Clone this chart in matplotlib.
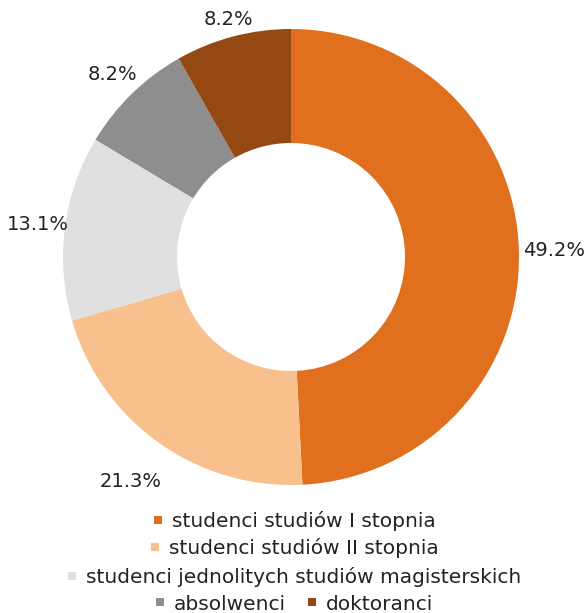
import matplotlib
matplotlib.use("Agg")
import matplotlib.pyplot as plt
from matplotlib.lines import Line2D
import numpy as np

categories = ["studenci studiów I stopnia", "studenci studiów II stopnia",
              "studenci jednolitych studiów magisterskich", "absolwenci", "doktoranci"]
values = [49.2, 21.3, 13.1, 8.2, 8.2]
labels = ["49.2%", "21.3%", "13.1%", "8.2%", "8.2%"]
colors = ["#E0701E", "#F8C08D", "#E0E0E0", "#8E8E8E", "#944913"]

plt.rcParams['font.family'] = ['DejaVu Sans']
W, H = 587, 613
fig = plt.figure(figsize=(W / 100, H / 100), dpi=100)
cx, cy, R = 291, 257, 228
ax = fig.add_axes([(cx - R) / W, (H - cy - R) / H, 2 * R / W, 2 * R / H])
wedges, _ = ax.pie(values, colors=colors, startangle=90, counterclock=False,
                   radius=1.0, wedgeprops=dict(width=0.5, linewidth=0))
ax.set_xlim(-1, 1)
ax.set_ylim(-1, 1)
ax.set_aspect('equal')
ax.axis('off')

label_r = [1.155, 1.21, 1.12, 1.12, 1.075]
for w, lab, r in zip(wedges, labels, label_r):
    ang = np.deg2rad((w.theta1 + w.theta2) / 2)
    ax.text(r * np.cos(ang), r * np.sin(ang), lab, ha='center', va='center',
            fontsize=14, color='#222222', clip_on=False)

rows = [[0], [1], [2], [3, 4]]
row_y = [521, 548, 577, 604]
for row, yy in zip(rows, row_y):
    handles = [Line2D([0], [0], marker='s', linestyle='none', markersize=6,
                      markerfacecolor=colors[i], markeredgewidth=0) for i in row]
    fig.legend(handles, [categories[i] for i in row], loc='center',
               bbox_to_anchor=(0.5, 1 - yy / H), ncol=len(row), frameon=False,
               handlelength=0.6, handletextpad=0.4, columnspacing=1.0,
               borderpad=0, labelcolor='#222222', prop=dict(size=14.5))

fig.savefig("out.png", dpi=100)
